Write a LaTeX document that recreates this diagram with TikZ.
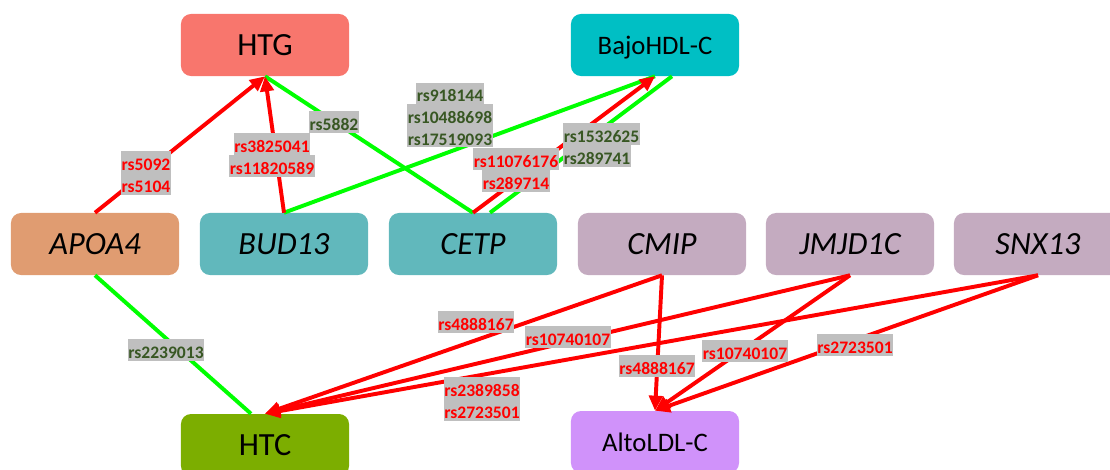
\documentclass[tikz,border=0pt]{standalone}
\usepackage{fontspec}
\setmainfont{Carlito}
\usetikzlibrary{positioning,calc,arrows.meta}

\definecolor{htgcol}{HTML}{F8766D}
\definecolor{hdlcol}{HTML}{00BFC4}
\definecolor{apoacol}{HTML}{E09C71}
\definecolor{tealcol}{HTML}{61B8BC}
\definecolor{mauvecol}{HTML}{C4ABC0}
\definecolor{htccol}{HTML}{7CAE00}
\definecolor{ldlcol}{HTML}{D092FA}
\definecolor{linkred}{HTML}{FF0000}
\definecolor{linkgreen}{HTML}{00FF00}
\definecolor{snpgray}{HTML}{BFBFBF}
\definecolor{snpgreen}{HTML}{385723}

% grijze markering per regel
\newcommand{\snp}[1]{{\setlength{\fboxsep}{0.4pt}\colorbox{snpgray}{\rule[-1.2pt]{0pt}{14.5pt}#1}}}
\newcommand{\snps}[2][c]{{\renewcommand{\arraystretch}{0.1}\begin{tabular}{@{}#1@{}}#2\end{tabular}}}

\begin{document}
\begin{tikzpicture}[x=0.025cm, y=-0.025cm]
  \tikzset{
    box/.style={rectangle, rounded corners=0.25cm, minimum width=4.2cm, minimum height=1.55cm,
      inner sep=0pt, text depth=0pt, text=black},
    gene/.style={box, font=\fontsize{23}{27}\selectfont\itshape},
    trait/.style={box, font=\fontsize{23}{27}\selectfont},
    smalltrait/.style={box, font=\fontsize{19}{22}\selectfont},
    redlink/.style={draw=linkred, line width=2.8pt, -{Triangle[length=10.7pt,width=9.5pt]}},
    greenlink/.style={draw=linkgreen, line width=2.8pt},
    snplab/.style={inner sep=0pt, font=\fontsize{12.5}{15}\selectfont\bfseries},
    snpr/.style={snplab, text=linkred},
    snpg/.style={snplab, text=snpgreen}
  }
  \useasboundingbox (0,0) rectangle (1110,469);

  % Kenmerken
  \node[trait, fill=htgcol] (HTG) at (265,45) {HTG};
  \node[smalltrait, fill=hdlcol] (HDL) at (655,45) {BajoHDL-C};
  \node[trait, fill=htccol] (HTC) at (265,445) {HTC};
  \node[smalltrait, fill=ldlcol] (LDL) at (655,442) {AltoLDL-C};

  % Genen
  \node[gene, fill=apoacol] (APOA4) at (95,244) {APOA4};
  \node[gene, fill=tealcol] (BUD13) at (284,244) {BUD13};
  \node[gene, fill=tealcol] (CETP) at (473,244) {CETP};
  \node[gene, fill=mauvecol] (CMIP) at (662,244) {CMIP};
  \node[gene, fill=mauvecol] (JMJD1C) at (850,244) {JMJD1C};
  \node[gene, fill=mauvecol] (SNX13) at (1038,244) {SNX13};

  % --- naar HTG en BajoHDL-C ---
  \draw[greenlink] (HTG.south) -- (CETP.north);
  \draw[greenlink] (BUD13.north) -- (HDL.south);
  \draw[greenlink] ($(CETP.north)+(17,0)$) -- ($(HDL.south)+(17,0)$);
  \draw[redlink] (APOA4.north) -- (HTG.south);
  \draw[redlink] (BUD13.north) -- (HTG.south);
  \draw[redlink] (CETP.north) -- (HDL.south);

  % --- naar HTC en AltoLDL-C ---
  \draw[greenlink] (APOA4.south) -- ($(HTC.north)+(-14,0)$);
  \foreach \g in {CMIP,JMJD1C,SNX13} {
    \draw[redlink] (\g.south) -- (HTC.north);
    \draw[redlink] (\g.south) -- (LDL.north);
  }

  % SNP labels
  \node[snpr] (s1) at (146,173) {\snps{\snp{rs5092}\\\snp{rs5104}}};
  \node[snpr] (s2) at (272,155) {\snps{\snp{rs3825041}\\\snp{rs11820589}}};
  \node[snpg] (s3) at (334,122) {\snp{rs5882}};
  \node[snpg] (s4) at (450,115) {\snps{\snp{rs918144}\\\snp{rs10488698}\\\snp{rs17519093}}};
  \node[snpr] (s5) at (516,170) {\snps{\snp{rs11076176}\\\snp{rs289714}}};
  \node[snpg, anchor=west] (s6) at (563,145) {\snps[l]{\snp{rs1532625}\\\snp{rs289741}}};
  \node[snpg] (s7) at (166,350) {\snp{rs2239013}};
  \node[snpr] (s8) at (476,322) {\snp{rs4888167}};
  \node[snpr] (s9) at (568,337) {\snp{rs10740107}};
  \node[snpr] (s10) at (482,399) {\snps{\snp{rs2389858}\\\snp{rs2723501}}};
  \node[snpr] (s11) at (657,366) {\snp{rs4888167}};
  \node[snpr] (s12) at (745,351) {\snp{rs10740107}};
  \node[snpr] (s13) at (855,345) {\snp{rs2723501}};
\end{tikzpicture}
\end{document}
